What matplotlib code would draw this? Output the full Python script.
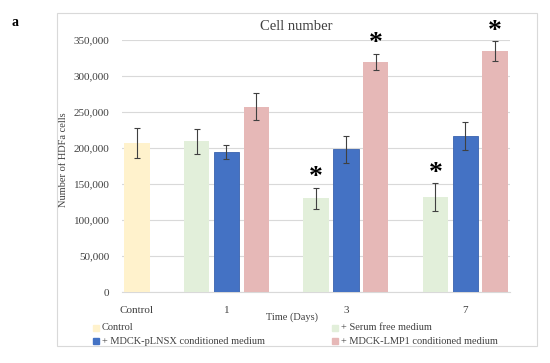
import matplotlib
matplotlib.use("Agg")
import matplotlib.pyplot as plt
from matplotlib.patches import Rectangle

plt.rcParams['font.family'] = ['Liberation Serif', 'DejaVu Serif']

# ---- data ----
categories = ["Control", "1", "3", "7"]
series = ["Control", "+ Serum free medium", "+ MDCK-pLNSX conditioned medium",
          "+ MDCK-LMP1 conditioned medium"]
control_val = [207000]
control_err = [21000]
serum_vals = [209500, 130000, 132000]
serum_errs = [17500, 15000, 19000]
plnsx_vals = [194000, 198000, 216500]
plnsx_errs = [9500, 19000, 19000]
lmp1_vals = [257500, 320000, 335000]
lmp1_errs = [19000, 11000, 13500]
serum_sig = [False, True, True]
lmp1_sig = [False, True, True]
yticks = [0, 50000, 100000, 150000, 200000, 250000, 300000, 350000]

colors = {"ctrl": "#FFF2CC", "serum": "#E2EFDA", "plnsx": "#4472C4", "lmp1": "#E6B8B7"}

W, H = 550, 363
fig = plt.figure(figsize=(W / 100, H / 100), dpi=100)

# outer chart border
fig.patches.append(Rectangle((57 / W, 1 - 346 / H), 480 / W, 333 / H,
                             transform=fig.transFigure, fill=False,
                             edgecolor="#D9D9D9", lw=0.8))

ax = fig.add_axes([122 / W, 1 - 292 / H, 388 / W, 252 / H])

# positions in slot units
ctrl_x = [0]
grp_centers = [3, 7, 11]
serum_x = [c - 1 for c in grp_centers]
plnsx_x = grp_centers
lmp1_x = [c + 1 for c in grp_centers]
bw = 0.85
ekw = dict(ecolor="#404040", elinewidth=0.8, capsize=2, capthick=0.8)

ax.bar(ctrl_x, control_val, bw, yerr=control_err, color=colors["ctrl"],
       error_kw=ekw, zorder=3)
ax.bar(serum_x, serum_vals, bw, yerr=serum_errs, color=colors["serum"],
       error_kw=ekw, zorder=3)
ax.bar(plnsx_x, plnsx_vals, bw, yerr=plnsx_errs, color=colors["plnsx"],
       edgecolor="#3A63AE", lw=0.6, error_kw=ekw, zorder=3)
ax.bar(lmp1_x, lmp1_vals, bw, yerr=lmp1_errs, color=colors["lmp1"],
       error_kw=ekw, zorder=3)

for xs, vs, es, sig in [(serum_x, serum_vals, serum_errs, serum_sig),
                        (lmp1_x, lmp1_vals, lmp1_errs, lmp1_sig)]:
    for x, v, e, s in zip(xs, vs, es, sig):
        if s:
            ax.annotate("*", (x, v + e), xytext=(0, -2), textcoords="offset points",
                        ha="center", va="bottom", fontsize=20, fontweight="bold",
                        color="black", zorder=4)

ax.set_xlim(-0.5, 12.5)
ax.set_ylim(0, 350000)
ax.set_yticks(yticks)
ax.set_yticklabels([f"{v:,}" for v in yticks], fontsize=8, color="#404040")
ax.set_xticks([0] + grp_centers)
ax.set_xticklabels(categories, fontsize=8, color="#404040")
ax.tick_params(axis="both", length=0, pad=9)
ax.tick_params(axis="x", pad=10)
ax.grid(axis="y", color="#D9D9D9", lw=0.8, zorder=0)
for side in ["top", "right", "left"]:
    ax.spines[side].set_visible(False)
ax.spines["bottom"].set_color("#D9D9D9")

ax.set_ylabel("Number of HDFa cells", fontsize=7.5, color="#404040")
ax.yaxis.set_label_coords(-0.139, 0.524)
fig.text(292 / W, 1 - 317 / H, "Time (Days)", fontsize=7.5, color="#404040",
         ha="center", va="center")
fig.text(296 / W, 1 - 27 / H, "Cell number", fontsize=10.5, color="#404040",
         ha="center", va="center")
fig.text(15 / W, 1 - 22 / H, "a", fontsize=10, fontweight="bold",
         ha="center", va="center")

# legend (manual)
leg = [(series[0], colors["ctrl"], 93, 328), (series[2], colors["plnsx"], 93, 341),
       (series[1], colors["serum"], 332, 328), (series[3], colors["lmp1"], 332, 341)]
for lab, c, px, py in leg:
    fig.patches.append(Rectangle((px / W, 1 - (py + 3) / H), 6 / W, 6 / H,
                                 transform=fig.transFigure, color=c))
    fig.text((px + 9) / W, 1 - py / H, lab, fontsize=7.5, color="#404040",
             ha="left", va="center")

fig.savefig("out.png", dpi=100)
